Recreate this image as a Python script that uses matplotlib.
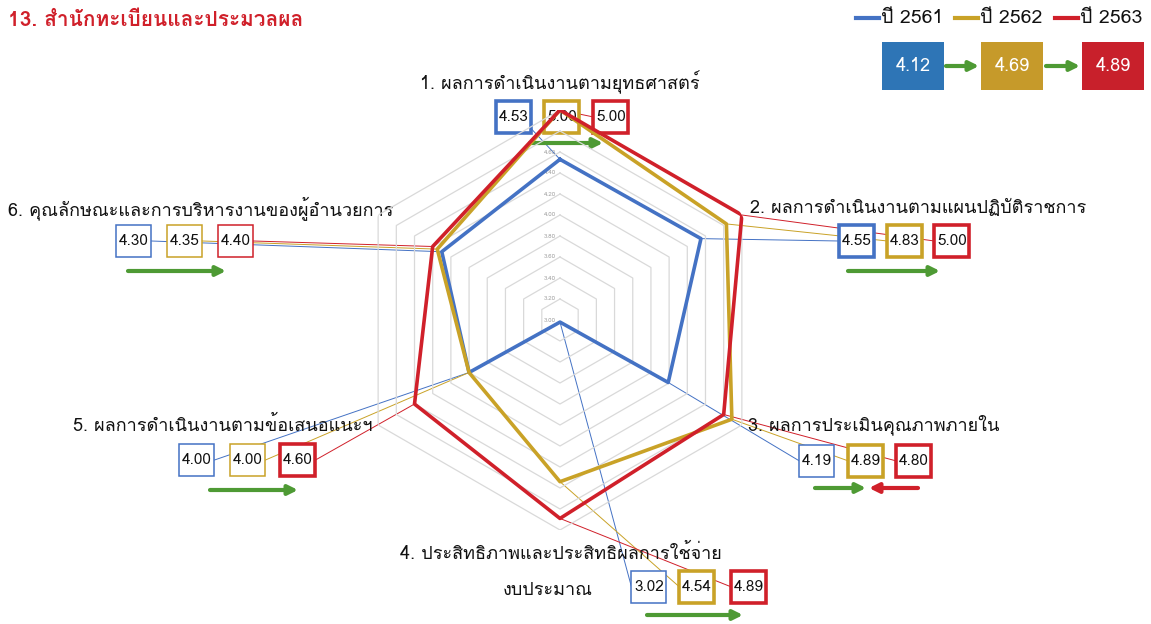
#Radar chart of the six evaluation items, years 2561-2563.

import numpy as np
import matplotlib
matplotlib.use("Agg")
import matplotlib.pyplot as plt
from matplotlib import font_manager
from matplotlib.ft2font import FT2Font
from matplotlib.patches import Rectangle

#Finding a font that has Thai glyphs.
def thai_font():
    best = None
    for f in font_manager.fontManager.ttflist:
        try:
            if ord('ก') in FT2Font(f.fname).get_charmap():
                if 'Thai' in f.name or 'Sarabun' in f.name or 'Loma' in f.name:
                    return f.name
                if best is None:
                    best = f.name
        except Exception:
            pass
    return best or 'DejaVu Sans'

TH = thai_font()
plt.rcParams['font.family'] = [TH, 'DejaVu Sans']

#Data.
title = "13. สำนักทะเบียนและประมวลผล"
items = ["1. ผลการดำเนินงานตามยุทธศาสตร์",
         "2. ผลการดำเนินงานตามแผนปฏิบัติราชการ",
         "3. ผลการประเมินคุณภาพภายใน",
         "4. ประสิทธิภาพและประสิทธิผลการใช้จ่าย\nงบประมาณ",
         "5. ผลการดำเนินงานตามข้อเสนอแนะฯ",
         "6. คุณลักษณะและการบริหารงานของผู้อำนวยการ"]
years = ["ปี 2561", "ปี 2562", "ปี 2563"]
v2561 = [4.53, 4.55, 4.19, 3.02, 4.00, 4.30]
v2562 = [5.00, 4.83, 4.89, 4.54, 4.00, 4.35]
v2563 = [5.00, 5.00, 4.80, 4.89, 4.60, 4.40]
overall = [4.12, 4.69, 4.89]
rticks = [3.00, 3.20, 3.40, 3.60, 3.80, 4.00, 4.20, 4.40, 4.60]

colors = ['#4472C4', '#C9A227', '#D0202A']
fills = ['#2E75B6', '#C69A2A', '#C8202B']
green = '#4E9A34'

W, H = 1151, 624
fig = plt.figure(figsize=(W/100, H/100), dpi=100)

#Overlay axes in pixel units for labels and boxes.
ov = fig.add_axes([0, 0, 1, 1], zorder=0)
ov.set_xlim(0, W)
ov.set_ylim(H, 0)
ov.axis('off')

#Polar axes for the radar, center (560,320), radius 210 px.
cx, cy, R = 560, 320, 210
pax = fig.add_axes([(cx-R)/W, (H-cy-R)/H, 2*R/W, 2*R/H], projection='polar', zorder=1)
pax.set_facecolor('none')
pax.set_theta_offset(np.pi/2)
pax.set_theta_direction(-1)
pax.set_ylim(3, 5)
pax.grid(False)
pax.set_xticks([])
pax.set_yticks([])
pax.spines['polar'].set_visible(False)

theta = np.arange(6) * 2*np.pi/6
tc = np.append(theta, theta[0])

#Hexagon grid.
for r in np.arange(3.2, 5.01, 0.2):
    pax.plot(tc, [r]*7, color='#D9D9D9', lw=0.9, zorder=1)
for r in rticks:
    pax.annotate(f"{r:.2f}", (0, r), xytext=(-3, 0), textcoords='offset points',
                 ha='right', va='center', fontsize=4.5, color='#A0A0A0')

#Series.
series = [v2561, v2562, v2563]
for vals, c in zip(series, colors):
    pax.plot(tc, vals + vals[:1], color=c, lw=2.6, zorder=3)

#Axis labels.
lab_pos = [(560, 82, 'center'), (750, 208, 'left'), (748, 425, 'left'),
           (561, 553, 'center'), (373, 425, 'right'), (8, 208, 'left')]
for i, (x, y, ha) in enumerate(lab_pos):
    txt = items[i].split("\n")
    ov.text(x, y, txt[0], ha=ha, va='center', fontsize=13, color='#111111')
    if len(txt) > 1:
        ov.text(548, 590, txt[1], ha='center', va='center', fontsize=13, color='#111111')

#Value boxes: centers of first box, gaps, border widths, leader anchor.
box_x = [[514, 562, 611], [857, 905, 952], [817, 866, 914],
         [649, 697, 749], [197, 248, 298], [134, 185, 236]]
box_y = [117, 241, 461, 587, 460, 241]
box_lw = [[2.6, 2.6, 2.6], [2.6, 2.6, 2.6], [1.1, 2.6, 2.6],
          [1.1, 2.6, 2.6], [1.1, 1.1, 2.6], [1.1, 1.1, 1.1]]
anchor = ['left', 'left', 'left', 'left', 'right', 'right']
bw, bh = 35, 32

def to_px(t, r):
    p = pax.transData.transform((t, r))
    return ov.transData.inverted().transform(p)

for i in range(6):
    for k in range(3):
        x, y = box_x[i][k], box_y[i]
        vx, vy = to_px(theta[i], series[k][i])
        ax_ = x - bw/2 if anchor[i] == 'left' else x + bw/2
        if i == 0 and k == 0:
            ax_, ay_ = x + bw/2, y + bh/2 - 4
        else:
            ay_ = y
        ov.plot([vx, ax_], [vy, ay_], color=colors[k], lw=0.7)
        ov.add_patch(Rectangle((x - bw/2, y - bh/2), bw, bh, facecolor='white',
                               edgecolor=colors[k], lw=box_lw[i][k], zorder=3))
        ov.text(x, y, f"{series[k][i]:.2f}", ha='center', va='center',
                fontsize=11, color='#111111', zorder=4)

#Trend arrows.
arrows = [(530, 603, 143, green), (848, 940, 271, green), (815, 866, 488, green),
          (918, 869, 488, colors[2]), (647, 743, 615, green), (210, 298, 490, green),
          (128, 226, 271, green), (946, 979, 66, green), (1046, 1080, 66, green)]
for x0, x1, y, c in arrows:
    ov.annotate("", xy=(x1, y), xytext=(x0, y),
                arrowprops=dict(arrowstyle='-|>', color=c, lw=3, mutation_scale=14,
                                shrinkA=0, shrinkB=0))

#Legend.
leg_x = [856, 955, 1055]
for k in range(3):
    ov.plot([leg_x[k], leg_x[k] + 23], [18, 18], color=colors[k], lw=3)
    ov.text(leg_x[k] + 25, 18, years[k], ha='left', va='center', fontsize=14, color='#111111')

#Overall score boxes.
ov_x = [913, 1012, 1113]
for k in range(3):
    ov.add_patch(Rectangle((ov_x[k] - 31, 42), 62, 48, facecolor=fills[k],
                           edgecolor='none'))
    ov.text(ov_x[k], 66, f"{overall[k]:.2f}", ha='center', va='center',
            fontsize=13, color='white')

#Title.
ov.text(8, 20, title, ha='left', va='center', fontsize=15, color='#D0202A',
        fontweight='bold')

fig.savefig("out.png", dpi=100)
